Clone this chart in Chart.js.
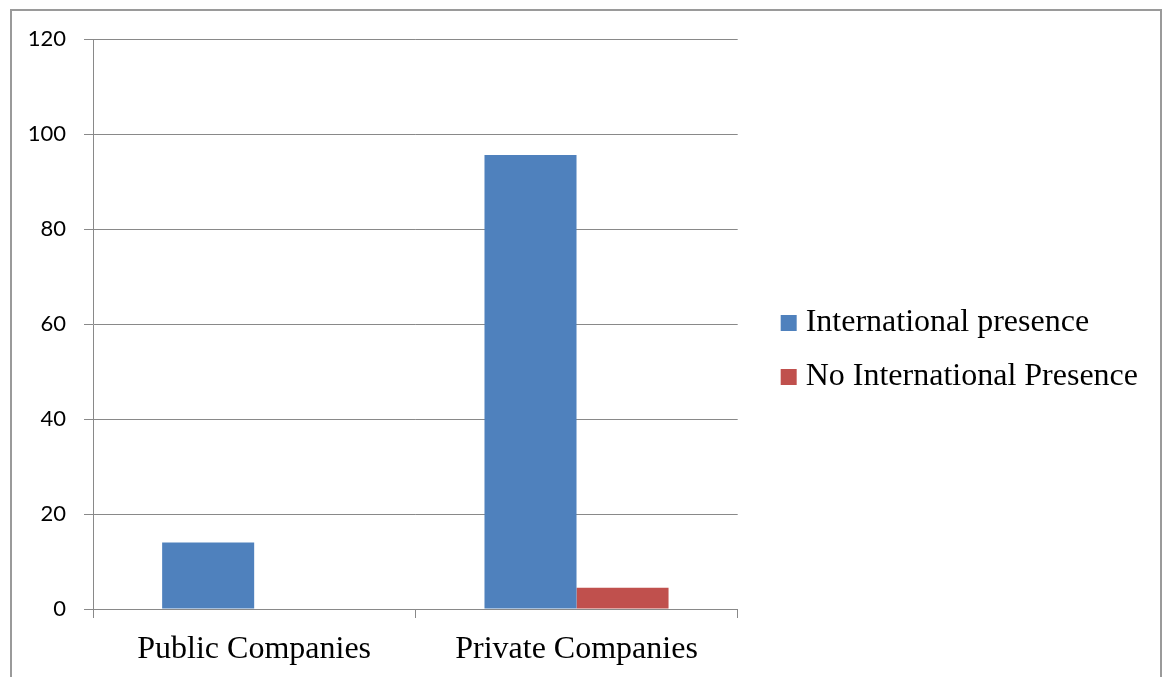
<!DOCTYPE html>
<html>
<head>
<meta charset="utf-8">
<script src="https://cdn.jsdelivr.net/npm/chart.js@4"></script>
<style>
    html, body { margin: 0; padding: 0; background: #fff; overflow: hidden; }
    #frame {
        position: absolute; left: 10px; top: 9px; width: 1152px; height: 720px;
        box-sizing: border-box; border: 2px solid #9a9a9a;
    }
    #wrap { position: absolute; left: 0; top: 0; width: 1162px; height: 677px; }
</style>
</head>
<body>
<div id="frame"></div>
<div id="wrap"><canvas id="chart"></canvas></div>
<script>
const categories = ['Public Companies', 'Private Companies'];
const seriesNames = ['International presence', 'No International Presence'];
const intlPresence = [14, 95.6];
const noIntlPresence = [0, 4.5];
const yMin = 0;
const yMax = 120;
const yStep = 20;

const gray = '#898989';

const ctx = document.getElementById('chart').getContext('2d');
new Chart(ctx, {
    type: 'bar',
    data: {
        labels: categories,
        datasets: [
            {
                label: seriesNames[0],
                data: intlPresence,
                backgroundColor: '#4F81BD',
                barPercentage: 1,
                categoryPercentage: 0.571
            },
            {
                label: seriesNames[1],
                data: noIntlPresence,
                backgroundColor: '#C0504D',
                barPercentage: 1,
                categoryPercentage: 0.571
            }
        ]
    },
    options: {
        responsive: true,
        maintainAspectRatio: false,
        animation: false,
        layout: {
            padding: { top: 24, bottom: 1, left: 0, right: 14 }
        },
        scales: {
            x: {
                offset: true,
                grid: {
                    display: true,
                    drawOnChartArea: false,
                    drawTicks: true,
                    tickLength: 9,
                    offset: true,
                    color: gray
                },
                border: { color: gray },
                ticks: {
                    color: '#000',
                    padding: 12,
                    font: { family: 'Liberation Serif', size: 32 }
                },
                afterFit(scale) { scale.height = 67; }
            },
            y: {
                min: yMin,
                max: yMax,
                grid: { color: gray, tickLength: 9 },
                border: { color: gray },
                ticks: {
                    stepSize: yStep,
                    color: '#000',
                    padding: 18,
                    font: { family: 'Lato', size: 22 }
                },
                afterFit(scale) { scale.width = 93; }
            },
            // empty spacers: above the plot and between plot and legend
            x2: {
                position: 'top',
                grid: { display: false },
                border: { display: false },
                ticks: { display: false },
                afterFit(scale) { scale.height = 15; }
            },
            y2: {
                position: 'right',
                grid: { display: false },
                border: { display: false },
                ticks: { display: false },
                afterFit(scale) { scale.width = 28; }
            }
        },
        plugins: {
            legend: {
                position: 'right',
                maxWidth: 460,
                labels: {
                    boxWidth: 2,
                    boxHeight: 2,
                    padding: 22,
                    color: '#000',
                    font: { family: 'Liberation Serif', size: 32 },
                    // thick same-colour outline makes a 16px square sitting close to the text
                    generateLabels(chart) {
                        const items = Chart.defaults.plugins.legend.labels.generateLabels(chart);
                        items.forEach(item => {
                            item.lineWidth = 14;
                            item.strokeStyle = item.fillStyle;
                        });
                        return items;
                    }
                }
            },
            tooltip: { enabled: false }
        }
    }
});
</script>
</body>
</html>
